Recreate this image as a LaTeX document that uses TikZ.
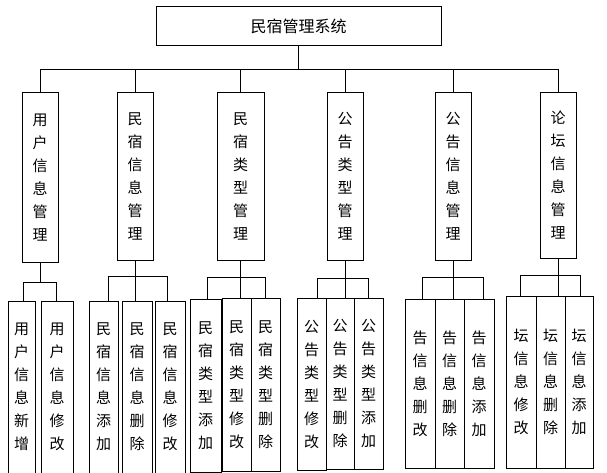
\documentclass[tikz,border=0pt]{standalone}
\usepackage{fontspec}
\newfontfamily\cjk{Noto Sans CJK SC}
\begin{document}
\begin{tikzpicture}[x=1pt,y=-1pt,line width=1pt,
  bx/.style={draw,inner sep=0pt,font=\cjk\fontsize{15}{23}\selectfont,align=center}]
\useasboundingbox (0,0) rectangle (607,473);
\newcommand\bx[6]{\node[bx,minimum width={#4-#2},minimum height={#5-#3}] (#1) at ({(#2+#4)/2},{(#3+#5)/2}) {#6};}
\bx{root}{156}{7}{441}{46}{\fontsize{16}{18}\selectfont 民宿管理系统}
\bx{a}{22}{93}{58}{262}{用\\户\\信\\息\\管\\理}
\bx{b}{117}{93}{153}{260}{民\\宿\\信\\息\\管\\理}
\bx{c}{217}{93}{264}{260}{民\\宿\\类\\型\\管\\理}
\bx{d}{327}{93}{363}{260}{公\\告\\类\\型\\管\\理}
\bx{e}{435}{93}{471}{260}{公\\告\\信\\息\\管\\理}
\bx{f}{540}{93}{576}{258}{论\\坛\\信\\息\\管\\理}
\bx{a1}{8}{301}{35}{473}{用\\户\\信\\息\\新\\增}
\bx{a2}{41}{301}{73}{473}{用\\户\\信\\息\\修\\改}
\bx{b1}{89}{301}{118}{473}{民\\宿\\信\\息\\添\\加}
\bx{b2}{122}{301}{152}{473}{民\\宿\\信\\息\\删\\除}
\bx{b3}{155}{301}{185}{473}{民\\宿\\信\\息\\修\\改}
\bx{c1}{190}{299}{221}{472}{民\\宿\\类\\型\\添\\加}
\bx{c2}{222}{298}{251}{471}{民\\宿\\类\\型\\修\\改}
\bx{c3}{251}{298}{280}{471}{民\\宿\\类\\型\\删\\除}
\bx{d1}{297}{298}{326}{470}{公\\告\\类\\型\\修\\改}
\bx{d2}{326}{298}{354}{469}{公\\告\\类\\型\\删\\除}
\bx{d3}{354}{298}{383}{469}{公\\告\\类\\型\\添\\加}
\bx{e1}{405}{299}{435}{468}{告\\信\\息\\删\\改}
\bx{e2}{435}{299}{464}{468}{告\\信\\息\\删\\除}
\bx{e3}{464}{299}{494}{468}{告\\信\\息\\添\\加}
\bx{f1}{506}{296}{536}{468}{坛\\信\\息\\修\\改}
\bx{f2}{536}{296}{565}{468}{坛\\信\\息\\删\\除}
\bx{f3}{565}{296}{593}{468}{坛\\信\\息\\添\\加}
\foreach \p in {a,b,c,d,e,f} \draw (root.south) -- (root.south |- 0,70) -| (\p.north);
\draw (a.south) -- (a.south |- 0,282) -| (23,301);
\draw (a.south) -- (a.south |- 0,282) -| (56,301);
\draw (b.south) -- (b.south |- 0,276) -| (108,301);
\draw (b.south) -- (b.south |- 0,276) -| (167,301);
\draw (b.south) -- (b.south |- 0,301);
\draw (c.south) -- (c.south |- 0,277) -| (207,299);
\draw (c.south) -- (c.south |- 0,277) -| (265,298);
\draw (c.south) -- (c.south |- 0,298);
\draw (d.south) -- (d.south |- 0,278) -| (317,298);
\draw (d.south) -- (d.south |- 0,278) -| (368,298);
\draw (d.south) -- (d.south |- 0,298);
\draw (e.south) -- (e.south |- 0,277) -| (422,299);
\draw (e.south) -- (e.south |- 0,277) -| (483,299);
\draw (e.south) -- (e.south |- 0,299);
\draw (f.south) -- (f.south |- 0,275) -| (520,296);
\draw (f.south) -- (f.south |- 0,275) -| (580,296);
\draw (f.south) -- (f.south |- 0,296);
\end{tikzpicture}
\end{document}
